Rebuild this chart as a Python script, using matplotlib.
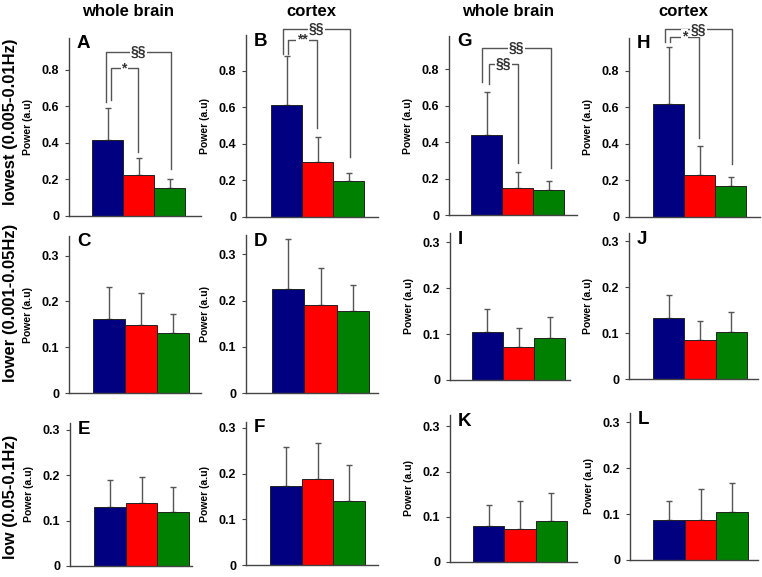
import matplotlib
matplotlib.use('Agg')
import matplotlib.pyplot as plt
import numpy as np

plt.rcParams['font.family'] = ['Liberation Sans', 'DejaVu Sans']
plt.rcParams['font.weight'] = 'bold'

# bar order: blue, red, green
colors = ['#000080', '#ff0000', '#008000']

# mean power and upper error (SD) per panel
A_mean = [0.415, 0.225, 0.155]
A_err = [0.175, 0.090, 0.050]
B_mean = [0.610, 0.300, 0.197]
B_err = [0.270, 0.137, 0.046]
G_mean = [0.441, 0.147, 0.137]
G_err = [0.235, 0.091, 0.051]
H_mean = [0.617, 0.232, 0.172]
H_err = [0.313, 0.155, 0.047]

C_mean = [0.162, 0.148, 0.131]
C_err = [0.070, 0.071, 0.042]
D_mean = [0.225, 0.191, 0.178]
D_err = [0.108, 0.079, 0.055]
I_mean = [0.105, 0.071, 0.092]
I_err = [0.050, 0.043, 0.045]
J_mean = [0.133, 0.085, 0.102]
J_err = [0.049, 0.042, 0.043]

E_mean = [0.130, 0.139, 0.119]
E_err = [0.060, 0.056, 0.056]
F_mean = [0.172, 0.188, 0.139]
F_err = [0.086, 0.080, 0.080]
K_mean = [0.079, 0.074, 0.090]
K_err = [0.046, 0.061, 0.063]
L_mean = [0.088, 0.088, 0.104]
L_err = [0.041, 0.067, 0.063]

row_labels = ['lowest (0.005-0.01Hz)', 'lower (0.001-0.05Hz)', 'low (0.05-0.1Hz)']
col_titles = ['whole brain', 'cortex', 'whole brain', 'cortex']

W, H = 762, 577
fig = plt.figure(figsize=(W / 100, H / 100), dpi=100)

# pixel layout: axes left, top, right, bottom, bars left, bars right, ymax
layout = {
    'A': (69, 38, 201, 216, 92, 185, 0.975),
    'B': (246, 35, 378, 217, 271, 364, 0.995),
    'G': (449, 36, 577, 215, 471, 564, 0.983),
    'H': (629, 38, 760, 217, 653, 746, 0.98),
    'C': (69, 236, 201, 393, 93, 189, 0.343),
    'D': (246, 235, 378, 393, 272, 369, 0.342),
    'I': (450, 233, 570, 380, 472, 565, 0.32),
    'J': (629, 233, 758, 379, 653, 747, 0.318),
    'E': (70, 423, 192, 566, 94, 189, 0.315),
    'F': (246, 422, 378, 565, 270, 365, 0.313),
    'K': (450, 415, 577, 562, 473, 567, 0.325),
    'L': (630, 413, 758, 560, 653, 748, 0.32),
}
data = {
    'A': (A_mean, A_err), 'B': (B_mean, B_err), 'G': (G_mean, G_err), 'H': (H_mean, H_err),
    'C': (C_mean, C_err), 'D': (D_mean, D_err), 'I': (I_mean, I_err), 'J': (J_mean, J_err),
    'E': (E_mean, E_err), 'F': (F_mean, F_err), 'K': (K_mean, K_err), 'L': (L_mean, L_err),
}
# significance brackets: x left, x right, left foot, right foot, top, label
brackets = {
    'A': [(-0.05, 2.05, 0.626, 0.26, 0.90, '§§'), (0.1, 0.97, 0.635, 0.35, 0.81, '*')],
    'B': [(-0.1, 2.05, 0.89, 0.33, 1.03, '§§'), (0.05, 0.99, 0.89, 0.485, 0.97, '**')],
    'G': [(-0.13, 2.08, 0.732, 0.257, 0.916, '§§'), (0.08, 1.0, 0.72, 0.284, 0.828, '§§')],
    'H': [(-0.1, 2.04, 0.96, 0.29, 1.027, '§§'), (0.05, 0.97, 0.96, 0.435, 0.986, '*')],
}

axcol = '#444444'
for key, (l, t, r, b, bl, br, ymax) in layout.items():
    ax = fig.add_axes([l / W, 1 - b / H, (r - l) / W, (b - t) / H])
    mean, err = data[key]
    x = np.arange(3)
    ax.bar(x, mean, width=1.0, color=colors, edgecolor='#222222', linewidth=0.7, zorder=2)
    ax.errorbar(x, mean, yerr=[np.zeros(3), err], fmt='none', ecolor='#555555',
                elinewidth=1.0, capsize=2.5, capthick=1.0, zorder=1)
    unit = (br - bl) / 3
    ax.set_xlim(-0.5 - (bl - l) / unit, 2.5 + (r - br) / unit)
    ax.set_ylim(0, ymax)
    if key in 'ABGH':
        ax.set_yticks([0, 0.2, 0.4, 0.6, 0.8])
        ax.set_yticklabels(['0', '0.2', '0.4', '0.6', '0.8'])
    else:
        ax.set_yticks([0, 0.1, 0.2, 0.3])
        ax.set_yticklabels(['0', '0.1', '0.2', '0.3'])
    ax.set_xticks([])
    for s in ['top', 'right']:
        ax.spines[s].set_visible(False)
    for s in ['left', 'bottom']:
        ax.spines[s].set_color(axcol)
        ax.spines[s].set_linewidth(1.0)
    ax.tick_params(axis='y', length=3, color=axcol, labelsize=9, pad=4)
    for lab in ax.get_yticklabels():
        lab.set_fontweight('bold')
    ax.set_ylabel('Power (a.u)', fontsize=7.5, fontweight='bold', labelpad=6)
    ax.patch.set_alpha(0)
    fig.text((l + 8) / W, 1 - (t + 6) / H, key, fontsize=13.5, fontweight='bold',
             va='center', ha='left')
    for (x1, x2, y1, y2, yt, lab) in brackets.get(key, []):
        ax.plot([x1, x1, x2, x2], [y1, yt, yt, y2], color='#555555', lw=1.0,
                clip_on=False, zorder=3)
        ax.text((x1 + x2) / 2, yt, lab, ha='center', va='center', fontsize=10,
                fontweight='bold', color='#333333', clip_on=False, zorder=4,
                bbox=dict(fc='white', ec='none', pad=0.6))

for txt, xc in zip(col_titles, [128, 311, 508, 683]):
    fig.text(xc / W, 1 - 12 / H, txt, ha='center', va='center', fontsize=12, fontweight='bold')
for txt, yc in zip(row_labels, [122, 303, 497]):
    fig.text(11 / W, 1 - yc / H, txt, ha='center', va='center', rotation=90,
             fontsize=12, fontweight='bold')

fig.savefig('out.png', dpi=100)
